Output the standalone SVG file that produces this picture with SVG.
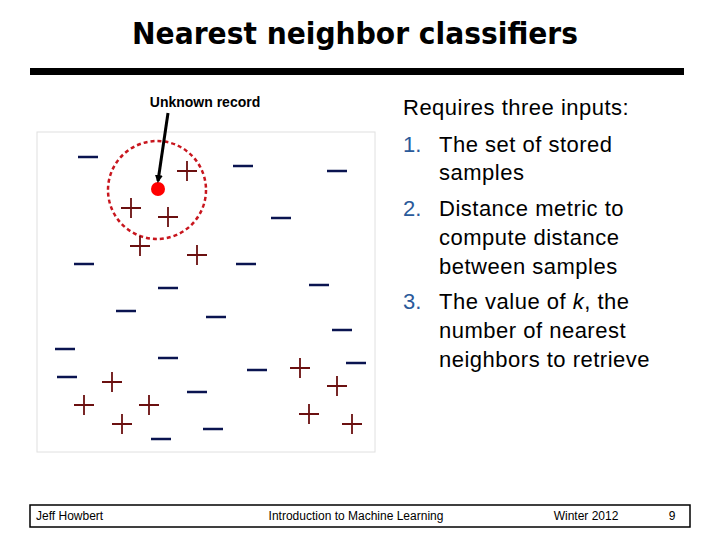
<svg xmlns="http://www.w3.org/2000/svg" width="720" height="540" viewBox="0 0 720 540">
<style>
.m{stroke:#0a1450;stroke-width:2.5}
.p{stroke:#6b1010;stroke-width:1.8;fill:none}
.t{font-family:"Liberation Sans",Arial,sans-serif;font-size:22px;letter-spacing:0.5px;fill:#000}
.n{font-family:"Liberation Sans",Arial,sans-serif;font-size:22px;fill:#2a5a9a}
.f{font-family:"Liberation Sans",Arial,sans-serif;font-size:12px;fill:#000}
</style>
<defs>
<g id="mi"><line class="m" x1="-10" y1="0" x2="10" y2="0"/></g>
<g id="pl"><path class="p" d="M-10 0H10M0 -10V10"/></g>
<marker id="ah" markerWidth="8" markerHeight="8" refX="6" refY="4" orient="auto" markerUnits="userSpaceOnUse"><path d="M0 0L8 4L0 8z" fill="#000"/></marker>
</defs>
<rect width="720" height="540" fill="#fff"/>
<text x="132" y="44" textLength="446" lengthAdjust="spacingAndGlyphs" font-family="'DejaVu Sans',sans-serif" font-weight="bold" font-size="30">Nearest neighbor classifiers</text>
<rect x="30" y="68" width="654" height="7" fill="#000"/>
<g id="plot">
<rect x="37" y="132" width="338" height="320" fill="#fff" stroke="#e0e0e0"/>
<text x="205" y="107" text-anchor="middle" font-family="'Liberation Sans',Arial,sans-serif" font-weight="bold" font-size="14">Unknown record</text>
<circle cx="157" cy="190" r="49" fill="none" stroke="#c8161e" stroke-width="2.5" stroke-dasharray="4,3"/>
<circle cx="158" cy="189" r="7" fill="#f00"/>
<line x1="168" y1="113" x2="158" y2="181" stroke="#000" stroke-width="3" marker-end="url(#ah)"/>
<use href="#mi" x="88" y="157"/><use href="#mi" x="243" y="166"/><use href="#mi" x="337" y="171"/>
<use href="#mi" x="281" y="218"/><use href="#mi" x="84" y="264"/><use href="#mi" x="246" y="264"/>
<use href="#mi" x="168" y="288"/><use href="#mi" x="319" y="285"/><use href="#mi" x="126" y="311"/>
<use href="#mi" x="216" y="317"/><use href="#mi" x="342" y="330"/><use href="#mi" x="65" y="349"/>
<use href="#mi" x="168" y="358"/><use href="#mi" x="67" y="377"/><use href="#mi" x="257" y="370"/>
<use href="#mi" x="356" y="363"/><use href="#mi" x="197" y="392"/><use href="#mi" x="213" y="429"/>
<use href="#mi" x="161" y="439"/>
<use href="#pl" x="187" y="171"/><use href="#pl" x="131" y="208"/><use href="#pl" x="168" y="217"/>
<use href="#pl" x="140" y="246"/><use href="#pl" x="197" y="255"/><use href="#pl" x="300" y="368"/>
<use href="#pl" x="337" y="386"/><use href="#pl" x="112" y="382"/><use href="#pl" x="84" y="405"/>
<use href="#pl" x="149" y="405"/><use href="#pl" x="122" y="424"/><use href="#pl" x="309" y="414"/>
<use href="#pl" x="352" y="424"/>
</g>
<g id="text">
<text class="t" x="403" y="115">Requires three inputs:</text>
<text class="n" x="403" y="152">1.</text>
<text class="t" x="439" y="152">The set of stored</text>
<text class="t" x="439" y="180">samples</text>
<text class="n" x="403" y="216">2.</text>
<text class="t" x="439" y="216">Distance metric to</text>
<text class="t" x="439" y="245">compute distance</text>
<text class="t" x="439" y="274">between samples</text>
<text class="n" x="403" y="309">3.</text>
<text class="t" x="439" y="309">The value of <tspan font-style="italic">k</tspan>, the</text>
<text class="t" x="439" y="338">number of nearest</text>
<text class="t" x="439" y="367">neighbors to retrieve</text>
</g>
<g id="footer">
<rect x="30" y="505" width="660" height="22" fill="none" stroke="#000" stroke-width="1.5"/>
<text class="f" x="36" y="520">Jeff Howbert</text>
<text class="f" x="356" y="520" text-anchor="middle">Introduction to Machine Learning</text>
<text class="f" x="586" y="520" text-anchor="middle">Winter 2012</text>
<text class="f" x="672" y="520" text-anchor="middle">9</text>
</g>
</svg>
